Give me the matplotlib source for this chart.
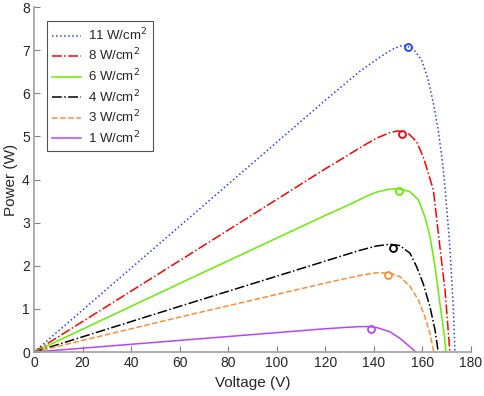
import matplotlib
matplotlib.use('Agg')
import matplotlib.pyplot as plt

plt.rcParams['font.family'] = ['Liberation Sans', 'DejaVu Sans']

# P-V curves, one per irradiance level
LABELS = ['11 W/cm$^2$', '8 W/cm$^2$', '6 W/cm$^2$', '4 W/cm$^2$', '3 W/cm$^2$', '1 W/cm$^2$']

V_11 = [0, 60, 120, 128, 134, 138.4, 142.5, 145, 148, 152, 156, 159.7, 162.4, 164.5, 166.5, 168.3, 169.4, 171.3, 172.7, 173.4]
P_11 = [0, 2.92, 5.84, 6.22, 6.50, 6.68, 6.84, 6.93, 7.03, 7.12, 7.05, 6.77, 6.31, 5.77, 5.15, 4.38, 3.76, 2.44, 1.05, 0]

V_8 = [0, 60, 120, 128, 134.3, 138, 141.1, 146.6, 150, 154.2, 157.6, 160.3, 162.4, 164.5, 167.2, 169.3, 170.6, 171.3]
P_8 = [0, 2.12, 4.25, 4.52, 4.74, 4.86, 4.96, 5.09, 5.13, 5.07, 4.88, 4.53, 4.15, 3.76, 2.44, 1.44, 0.51, 0]

V_6 = [0, 60, 120, 128, 134.3, 138, 141.1, 146.6, 150, 154.9, 158.3, 161, 163.1, 165.2, 167.2, 168.9, 169.7]
P_6 = [0, 1.59, 3.17, 3.37, 3.54, 3.64, 3.71, 3.78, 3.79, 3.72, 3.53, 3.14, 2.68, 1.98, 1.13, 0.43, 0]

V_4 = [0, 60, 120, 128, 134.3, 141.1, 146.6, 150.7, 154.9, 157.6, 160.3, 163.1, 165.2, 166.5]
P_4 = [0, 1.06, 2.11, 2.25, 2.36, 2.46, 2.50, 2.47, 2.29, 1.98, 1.59, 1.05, 0.51, 0]

V_3 = [0, 60, 120, 128, 135.6, 141.1, 146.6, 150.7, 154.9, 158.3, 161, 163.1, 164.7]
P_3 = [0, 0.81, 1.60, 1.70, 1.79, 1.84, 1.83, 1.75, 1.52, 1.21, 0.82, 0.43, 0]

V_1 = [0, 60, 120, 128, 134.3, 138, 141.1, 146.6, 150.7, 154.9, 157.3]
P_1 = [0, 0.27, 0.54, 0.57, 0.59, 0.59, 0.57, 0.47, 0.32, 0.12, 0]

# tracked maximum power points (circles)
V_MPP = [154.2, 151.4, 150.2, 148.0, 145.9, 138.7]
P_MPP = [7.07, 5.06, 3.74, 2.42, 1.79, 0.53]

CURVES = [(V_11, P_11), (V_8, P_8), (V_6, P_6), (V_4, P_4), (V_3, P_3), (V_1, P_1)]
COLORS = ['#2040ff', '#ff0000', '#66ee00', '#000000', '#ff8c33', '#b844ff']
STYLES = [':', '-.', '-', '-.', '--', '-']

fig = plt.figure(figsize=(4.85, 3.96), dpi=100)
ax = fig.add_axes([0.0701, 0.111, 0.901, 0.871])

for (v, p), lab, c, ls in zip(CURVES, LABELS, COLORS, STYLES):
    ax.plot(v, p, ls, color=c, lw=1.1, label=lab)

for vm, pm, c in zip(V_MPP, P_MPP, COLORS):
    ax.plot(vm, pm, 'o', mfc='none', mec=c, ms=5, mew=1.3)

ax.set_xlim(0, 180)
ax.set_ylim(0, 8)
ax.set_xticks(range(0, 181, 20))
ax.set_yticks(range(0, 9))

for s in ['top', 'right']:
    ax.spines[s].set_visible(False)
for s in ['left', 'bottom']:
    ax.spines[s].set_color('#a0a0a0')
    ax.spines[s].set_linewidth(1.2)
ax.tick_params(direction='in', length=4, color='#808080', labelsize=10,
               labelcolor='#262626', pad=3)

ax.set_xlabel('Voltage (V)', fontsize=11, color='#262626', labelpad=4)
ax.set_ylabel('Power (W)', fontsize=11, color='#262626', labelpad=3)

leg = ax.legend(loc='upper left', bbox_to_anchor=(0.03, 0.959), borderaxespad=0,
                fontsize=9.5, frameon=True, fancybox=False, borderpad=0.4,
                labelspacing=0.3, handlelength=2.2, handletextpad=0.5)
leg.get_frame().set_edgecolor('#262626')
leg.get_frame().set_linewidth(0.8)
for t in leg.get_texts():
    t.set_color('#262626')

fig.savefig('out.png', dpi=100)
